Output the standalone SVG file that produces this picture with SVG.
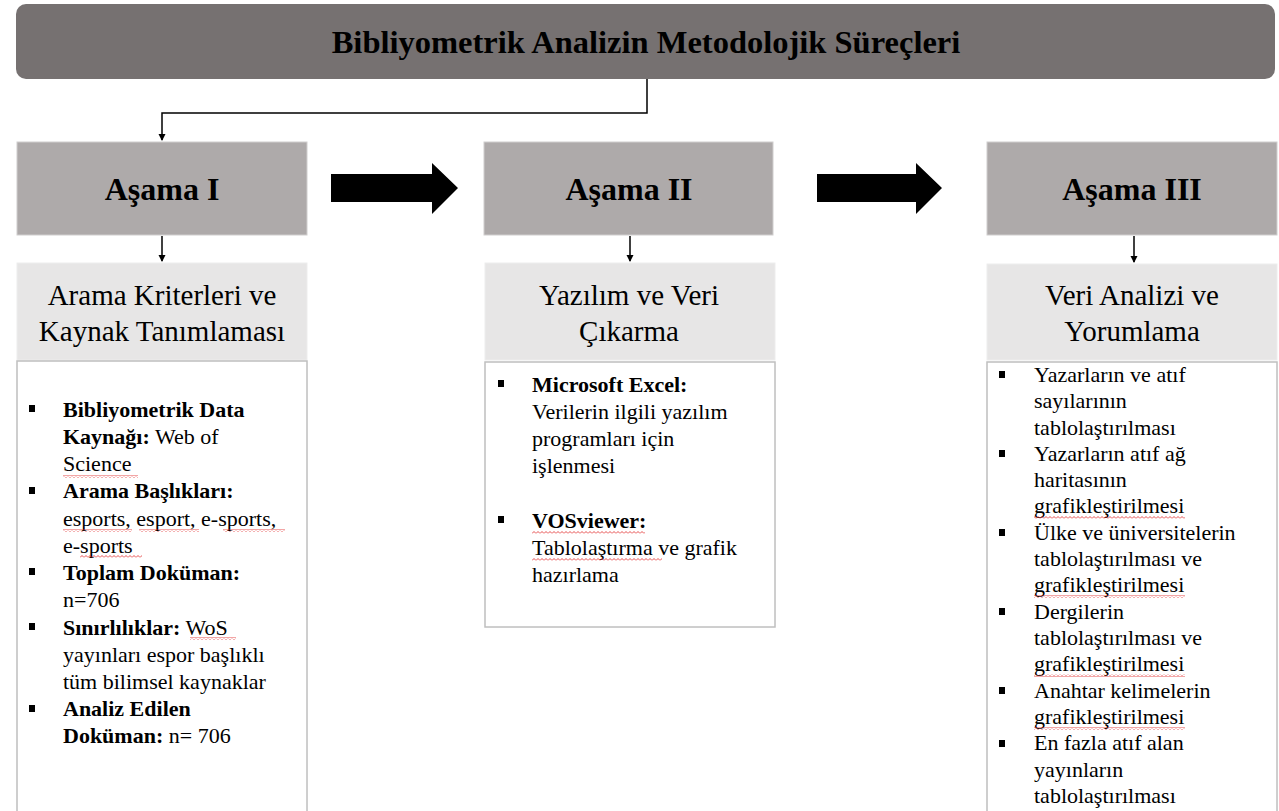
<svg xmlns="http://www.w3.org/2000/svg" width="1279" height="811" viewBox="0 0 1279 811">
<style>
.t{font-family:"Liberation Serif","Times New Roman",serif;fill:#000}
.title{font-size:32.5px;font-weight:bold}
.stage{font-size:32px;font-weight:bold}
.sub{font-size:29px}
.body{font-size:22px}
.b{font-weight:bold}
.dark{fill:#AEAAAA;stroke:#D0CECE;stroke-width:1}
.light{fill:#E7E6E6;stroke:#EDEDED;stroke-width:1}
.white{fill:#FFFFFF;stroke:#BFBFBF;stroke-width:1.5}
.con{fill:none;stroke:#000;stroke-width:1.5}
.bul{fill:#000}
.wavy{fill:url(#wv)}
</style>
<defs>
<marker id="ah" markerWidth="8" markerHeight="8" refX="6" refY="4" orient="auto" markerUnits="userSpaceOnUse">
<path d="M0,0.5 L7,4 L0,7.5 Z" fill="#000"/>
</marker>
<pattern id="wv" width="4" height="3" patternUnits="userSpaceOnUse">
<polyline points="0,2.5 2,0.5 4,2.5" fill="none" stroke="#E02020" stroke-width="0.8"/>
</pattern>
</defs>
<rect width="1279" height="811" fill="#FFFFFF"/>

<g id="title">
<rect x="16" y="4" width="1259" height="75" rx="10" ry="10" fill="#767171"/>
<text class="t title" x="646" y="53" text-anchor="middle">Bibliyometrik Analizin Metodolojik Süreçleri</text>
</g>

<g id="connectors">
<polyline class="con" points="647,79 647,113 162,113 162,140" marker-end="url(#ah)"/>
<line class="con" x1="162" y1="236" x2="162" y2="261" marker-end="url(#ah)"/>
<line class="con" x1="630" y1="236" x2="630" y2="261" marker-end="url(#ah)"/>
<line class="con" x1="1134" y1="236" x2="1134" y2="262" marker-end="url(#ah)"/>
<polygon points="331,174 432,174 432,163 458,188 432,214 432,202 331,202" fill="#000"/>
<polygon points="817,174 916,174 916,163 942,188 916,214 916,202 817,202" fill="#000"/>
</g>

<g id="stage1">
<rect class="dark" x="17" y="142" width="290" height="93"/>
<text class="t stage" x="162" y="200" text-anchor="middle">Aşama I</text>
</g>
<g id="stage1-head">
<rect class="light" x="17" y="263" width="290" height="97"/>
<text class="t sub" x="162" y="305" text-anchor="middle">Arama Kriterleri ve</text>
<text class="t sub" x="162" y="341" text-anchor="middle">Kaynak Tanımlaması</text>
</g>
<g id="stage1-body">
<rect class="white" x="17" y="361" width="290" height="460"/>
<rect class="bul" x="29" y="405" width="6" height="7"/>
<rect class="bul" x="29" y="487" width="6" height="7"/>
<rect class="bul" x="29" y="568" width="6" height="7"/>
<rect class="bul" x="29" y="623" width="6" height="7"/>
<rect class="bul" x="29" y="705" width="6" height="7"/>
<text class="t body" x="63" y="417"><tspan class="b">Bibliyometrik Data</tspan></text>
<text class="t body" x="63" y="444"><tspan class="b">Kaynağı:</tspan> Web of</text>
<text class="t body" x="63" y="471">Science</text>
<text class="t body" x="63" y="498"><tspan class="b">Arama Başlıkları:</tspan></text>
<text class="t body" x="63" y="526">esports, esport, e-sports,</text>
<text class="t body" x="63" y="553">e-sports</text>
<text class="t body" x="63" y="580"><tspan class="b">Toplam Doküman:</tspan></text>
<text class="t body" x="63" y="607">n=706</text>
<text class="t body" x="63" y="635"><tspan class="b">Sınırlılıklar:</tspan> WoS</text>
<text class="t body" x="63" y="662">yayınları espor başlıklı</text>
<text class="t body" x="63" y="689">tüm bilimsel kaynaklar</text>
<text class="t body" x="63" y="716"><tspan class="b">Analiz Edilen</tspan></text>
<text class="t body" x="63" y="743"><tspan class="b">Doküman:</tspan> n= 706</text>
<rect class="wavy" x="63" y="475" width="75" height="3"/>
<rect class="wavy" x="63" y="529" width="69" height="3"/>
<rect class="wavy" x="139" y="529" width="60" height="3"/>
<rect class="wavy" x="223" y="529" width="62" height="3"/>
<rect class="wavy" x="80" y="555" width="62" height="3"/>
<rect class="wavy" x="190" y="637" width="46" height="3"/>
</g>

<g id="stage2">
<rect class="dark" x="484" y="142" width="289" height="93"/>
<text class="t stage" x="629" y="200" text-anchor="middle">Aşama II</text>
</g>
<g id="stage2-head">
<rect class="light" x="485" y="263" width="290" height="97"/>
<text class="t sub" x="629" y="305" text-anchor="middle">Yazılım ve Veri</text>
<text class="t sub" x="629" y="341" text-anchor="middle">Çıkarma</text>
</g>
<g id="stage2-body">
<rect class="white" x="485" y="362" width="290" height="265"/>
<rect class="bul" x="498" y="380" width="6" height="7"/>
<rect class="bul" x="498" y="516" width="6" height="7"/>
<text class="t body" x="532" y="392"><tspan class="b">Microsoft Excel:</tspan></text>
<text class="t body" x="532" y="419">Verilerin ilgili yazılım</text>
<text class="t body" x="532" y="446">programları için</text>
<text class="t body" x="532" y="473">işlenmesi</text>
<text class="t body" x="532" y="528"><tspan class="b">VOSviewer:</tspan></text>
<text class="t body" x="532" y="555">Tablolaştırma ve grafik</text>
<text class="t body" x="532" y="582">hazırlama</text>
<rect class="wavy" x="532" y="531" width="113" height="3"/>
<rect class="wavy" x="532" y="558" width="130" height="3"/>
</g>

<g id="stage3">
<rect class="dark" x="987" y="142" width="290" height="93"/>
<text class="t stage" x="1132" y="200" text-anchor="middle">Aşama III</text>
</g>
<g id="stage3-head">
<rect class="light" x="987" y="264" width="290" height="96"/>
<text class="t sub" x="1132" y="305" text-anchor="middle">Veri Analizi ve</text>
<text class="t sub" x="1132" y="341" text-anchor="middle">Yorumlama</text>
</g>
<g id="stage3-body">
<rect class="white" x="987" y="362" width="290" height="460"/>
<rect class="bul" x="999" y="371" width="6" height="7"/>
<rect class="bul" x="999" y="450" width="6" height="7"/>
<rect class="bul" x="999" y="529" width="6" height="7"/>
<rect class="bul" x="999" y="608" width="6" height="7"/>
<rect class="bul" x="999" y="687" width="6" height="7"/>
<rect class="bul" x="999" y="740" width="6" height="7"/>
<text class="t body" x="1034" y="382">Yazarların ve atıf</text>
<text class="t body" x="1034" y="408">sayılarının</text>
<text class="t body" x="1034" y="435">tablolaştırılması</text>
<text class="t body" x="1034" y="461">Yazarların atıf ağ</text>
<text class="t body" x="1034" y="487">haritasının</text>
<text class="t body" x="1034" y="513">grafikleştirilmesi</text>
<text class="t body" x="1034" y="540">Ülke ve üniversitelerin</text>
<text class="t body" x="1034" y="566">tablolaştırılması ve</text>
<text class="t body" x="1034" y="592">grafikleştirilmesi</text>
<text class="t body" x="1034" y="619">Dergilerin</text>
<text class="t body" x="1034" y="645">tablolaştırılması ve</text>
<text class="t body" x="1034" y="671">grafikleştirilmesi</text>
<text class="t body" x="1034" y="698">Anahtar kelimelerin</text>
<text class="t body" x="1034" y="724">grafikleştirilmesi</text>
<text class="t body" x="1034" y="750">En fazla atıf alan</text>
<text class="t body" x="1034" y="777">yayınların</text>
<text class="t body" x="1034" y="803">tablolaştırılması</text>
<rect class="wavy" x="1034" y="516" width="151" height="3"/>
<rect class="wavy" x="1034" y="595" width="151" height="3"/>
<rect class="wavy" x="1034" y="674" width="151" height="3"/>
<rect class="wavy" x="1034" y="727" width="151" height="3"/>
</g>
</svg>
